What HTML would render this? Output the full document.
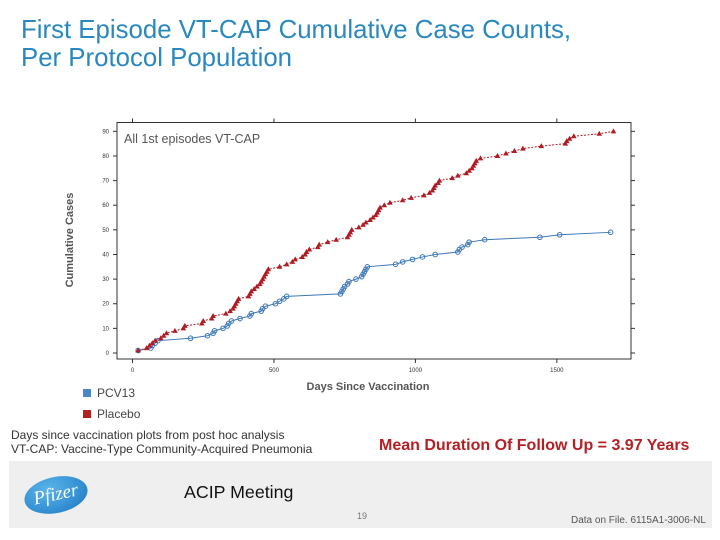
<!DOCTYPE html>
<html><head><meta charset="utf-8"><style>
body{margin:0;width:720px;height:540px;background:#fff;font-family:"Liberation Sans",sans-serif;position:relative;overflow:hidden}
.abs{position:absolute}
</style></head><body>
<div class="abs" style="left:21px;top:16px;font-size:25.8px;line-height:28px;color:#2a88c0">First Episode VT-CAP Cumulative Case Counts,<br>Per Protocol Population</div>
<svg class="abs" style="left:0;top:0" width="720" height="540" id="chart">
<rect x="117" y="122.5" width="514" height="236.5" fill="none" stroke="#333" stroke-width="1"/>
<text x="124" y="143" font-size="12.5" fill="#555">All 1st episodes VT-CAP</text>
<text x="73" y="240" font-size="11" font-weight="bold" fill="#555" transform="rotate(-90 73 240)" text-anchor="middle">Cumulative Cases</text>
<text x="368" y="390" font-size="11" font-weight="bold" fill="#555" text-anchor="middle">Days Since Vaccination</text>
<g id="axes"></g><g id="marks"></g>
</svg>
<div class="abs" style="left:83px;top:386px;font-size:12px;color:#444"><span style="display:inline-block;width:8px;height:8px;background:#4a86c8;margin-right:6px"></span>PCV13</div>
<div class="abs" style="left:83px;top:407px;font-size:12px;color:#444"><span style="display:inline-block;width:8px;height:8px;background:#b22222;margin-right:6px"></span>Placebo</div>
<div class="abs" style="left:11px;top:428px;font-size:12px;line-height:14px;color:#333">Days since vaccination plots from post hoc analysis<br>VT-CAP: Vaccine-Type Community-Acquired Pneumonia</div>
<div class="abs" style="left:379px;top:437px;font-size:16px;font-weight:bold;color:#b52025">Mean Duration Of Follow Up = 3.97 Years</div>
<div class="abs" style="left:9px;top:461px;width:703px;height:67px;background:#efefef"></div>
<div class="abs" style="left:24px;top:477px;width:64px;height:36px;border-radius:50%;background:radial-gradient(ellipse at 40% 30%,#5ab4ea,#1a78c2);transform:rotate(-12deg);color:#fff;font-family:'Liberation Serif',serif;font-style:italic;font-size:19px;text-align:center;line-height:36px">Pfizer</div>
<div class="abs" style="left:184px;top:482px;font-size:17.8px;color:#111">ACIP Meeting</div>
<div class="abs" style="left:357px;top:511px;font-size:9px;color:#777">19</div>
<div class="abs" style="left:571px;top:515px;font-size:10px;color:#555">Data on File. 6115A1-3006-NL</div>
<script>
const xTicks=[0,500,1000,1500];
const yTicks=[0,10,20,30,40,50,60,70,80,90];
const placeboDays=[20,50,60,70,80,100,110,120,150,180,185,245,250,280,285,330,345,355,360,365,370,375,410,415,420,430,440,450,455,460,465,470,475,480,520,545,565,575,600,610,615,625,655,660,690,720,760,765,770,775,800,815,825,840,850,860,865,870,875,890,910,955,985,1030,1050,1060,1065,1070,1080,1085,1130,1150,1180,1190,1200,1205,1210,1215,1230,1290,1320,1350,1380,1445,1530,1535,1545,1560,1650,1700];
const placeboCases=[1,2,3,4,5,6,7,8,9,10,11,12,13,14,15,16,17,18,19,20,21,22,23,24,25,26,27,28,29,30,31,32,33,34,35,36,37,38,39,40,41,42,43,44,45,46,47,48,49,50,51,52,53,54,55,56,57,58,59,60,61,62,63,64,65,66,67,68,69,70,71,72,73,74,75,76,77,78,79,80,81,82,83,84,85,86,87,88,89,90];
const pcvDays=[20,65,70,80,90,205,265,285,290,320,335,340,350,380,415,420,455,460,470,505,520,535,545,735,740,745,750,760,765,790,810,815,820,825,830,930,955,990,1025,1070,1150,1155,1165,1185,1190,1245,1440,1510,1690];
const pcvCases=[1,2,3,4,5,6,7,8,9,10,11,12,13,14,15,16,17,18,19,20,21,22,23,24,25,26,27,28,29,30,31,32,33,34,35,36,37,38,39,40,41,42,43,44,45,46,47,48,49];
const NS='http://www.w3.org/2000/svg';
const xs=d=>132.5+d*0.2829;
const ys=v=>353-v*2.463;
const ax=document.getElementById('axes'),mk=document.getElementById('marks');
function el(t,a,p){const e=document.createElementNS(NS,t);for(const k in a)e.setAttribute(k,a[k]);p.appendChild(e);return e;}
xTicks.forEach(t=>{
 const g=el('g',{},ax);
 
 
 el('line',{x1:xs(t),x2:xs(t),y1:359,y2:363,stroke:'#333'},g);
 el('line',{x1:xs(t),x2:xs(t),y1:122.5,y2:118.5,stroke:'#333'},g);
 const tx=el('text',{x:xs(t),y:372,'font-size':6,'text-anchor':'middle',fill:'#333'},g);tx.textContent=t;
});
yTicks.forEach(t=>{
 const g=el('g',{},ax);
 
 
 el('line',{x1:113,x2:117,y1:ys(t),y2:ys(t),stroke:'#333'},g);
 el('line',{x1:631,x2:635,y1:ys(t),y2:ys(t),stroke:'#333'},g);
 const tx=el('text',{x:109,y:ys(t)+2,'font-size':6,'text-anchor':'end',fill:'#333'},g);tx.textContent=t;
});
function series(days,vals,color,dash,name,tri){
 const pts=days.map((d,i)=>xs(d)+','+ys(vals[i])).join(' ');
 const l=el('polyline',{points:pts,fill:'none',stroke:color,'stroke-width':1,'stroke-dasharray':dash},mk);
 
 
 days.forEach((d,i)=>{
  const x=xs(d),y=ys(vals[i]);let m;
  if(tri)m=el('polygon',{points:`${x},${y-3} ${x-2.8},${y+2} ${x+2.8},${y+2}`,fill:color},mk);
  else m=el('circle',{cx:x,cy:y,r:2.3,fill:'none',stroke:color,'stroke-width':1},mk);
  
  
 });
}
series(pcvDays,pcvCases,'#3d78b8','none','pcv13',false);
series(placeboDays,placeboCases,'#b01c24','2,1.5','placebo',true);
</script>
</body></html>
